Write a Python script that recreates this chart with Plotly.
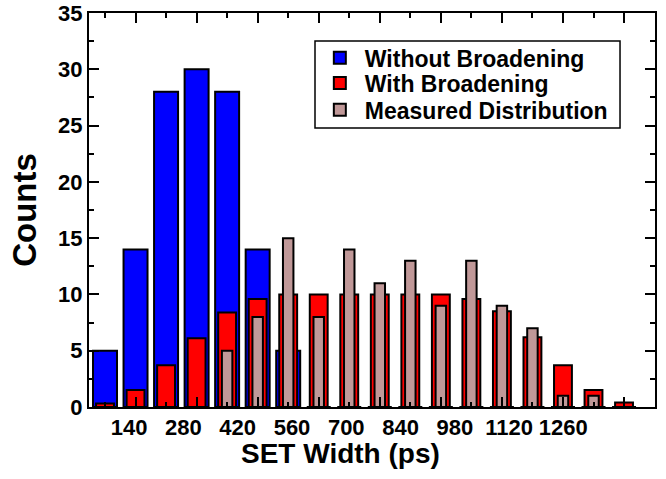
import plotly.graph_objects as go

# SET width bins (ps) and counts per bin
bin_centers = [70, 140, 210, 280, 350, 420, 490, 560, 630, 700, 770, 840,
               910, 980, 1050, 1120, 1190, 1260]
without_broadening = [5, 14, 28, 30, 28, 14, 5, 0, 0, 0, 0, 0,
                      0, 0, 0, 0, 0, 0]
with_broadening = [0.3, 1.5, 3.7, 6.1, 8.4, 9.6, 10, 10, 10, 10, 10, 10,
                   9.6, 8.5, 6.2, 3.7, 1.5, 0.4]
measured = [0, 0, 0, 0, 5, 8, 15, 8, 14, 11, 13, 9,
            13, 9, 7, 1, 1, 0]

# labels of the bottom scale
x_tick_labels = [140, 280, 420, 560, 700, 840, 980, 1120, 1260]

FONT = "Liberation Sans, Arial, Helvetica, sans-serif"
BLUE = "#0000FF"
RED = "#FF0000"
BROWN = "#C09898"
X_RANGE = [33.3, 1331]
Y_RANGE = [0, 35]

fig = go.Figure()
# hidden carriers so the extra scales (labelled bottom scale, top/right tick frames) render
fig.add_trace(go.Scatter(x=x_tick_labels, y=[0] * len(x_tick_labels), xaxis="x2", yaxis="y",
                         mode="markers", marker=dict(opacity=0), showlegend=False,
                         hoverinfo="skip"))
fig.add_trace(go.Scatter(x=bin_centers, y=[0] * len(bin_centers), xaxis="x3", yaxis="y2",
                         mode="markers", marker=dict(opacity=0), showlegend=False,
                         hoverinfo="skip"))

fig.add_trace(go.Bar(x=bin_centers, y=without_broadening, name="Without Broadening",
                     width=55, legend="legend",
                     marker=dict(color=BLUE, line=dict(color="black", width=2))))
fig.add_trace(go.Bar(x=bin_centers, y=with_broadening, name="With Broadening",
                     width=41, legend="legend2",
                     marker=dict(color=RED, line=dict(color="black", width=2))))
fig.add_trace(go.Bar(x=bin_centers, y=measured, name="Measured Distribution",
                     width=24, legend="legend3",
                     marker=dict(color=BROWN, line=dict(color="black", width=2))))


def legend_row(ypos):
    return dict(x=0.399, y=ypos, xanchor="left", yanchor="middle",
                bgcolor="rgba(0,0,0,0)", borderwidth=0, itemwidth=40,
                font=dict(size=23, family=FONT, weight="bold"))


tick_style = dict(ticks="inside", tickwidth=2, tickcolor="black", ticklen=10,
                  showgrid=False, zeroline=False, automargin=False)

fig.update_layout(
    width=666, height=479,
    margin=dict(l=89, r=11, t=13, b=72),
    barmode="overlay",
    plot_bgcolor="white",
    paper_bgcolor="white",
    font=dict(family=FONT, size=22, color="black", weight="bold"),
    legend=legend_row(0.886),
    legend2=legend_row(0.822),
    legend3=legend_row(0.754),
    shapes=[dict(type="rect", xref="paper", yref="paper",
                 x0=0.3993, x1=0.9382, y0=0.7081, y1=0.9289,
                 line=dict(color="black", width=1.5))],
    annotations=[dict(text="SET Width (ps)", xref="paper", yref="paper",
                      x=0.445, y=-0.117, xanchor="center", yanchor="middle",
                      showarrow=False,
                      font=dict(size=28, family=FONT, weight="bold", color="black"))],
    xaxis=dict(
        range=X_RANGE, showline=True, linecolor="black", linewidth=2, mirror=True,
        tick0=0, dtick=140, showticklabels=False,
        minor=dict(ticks="inside", tick0=70, dtick=140, ticklen=5, tickwidth=2,
                   tickcolor="black", showgrid=False),
        **tick_style,
    ),
    xaxis2=dict(
        overlaying="x", anchor="y", side="bottom",
        range=[36.3, 1496.5], tickvals=x_tick_labels,
        ticktext=[str(v) for v in x_tick_labels],
        ticks="", showline=False, showgrid=False, zeroline=False, automargin=False,
        ticklabelstandoff=5,
        tickfont=dict(size=22, family=FONT, weight="bold"),
    ),
    xaxis3=dict(
        overlaying="x", anchor="y2", side="top", range=X_RANGE, showline=False,
        tick0=0, dtick=140, showticklabels=False,
        minor=dict(ticks="inside", tick0=70, dtick=140, ticklen=5, tickwidth=2,
                   tickcolor="black", showgrid=False),
        **tick_style,
    ),
    yaxis=dict(
        range=Y_RANGE, showline=True, linecolor="black", linewidth=2, mirror=True,
        tick0=0, dtick=5,
        tickfont=dict(size=22, family=FONT, weight="bold"),
        minor=dict(ticks="inside", dtick=2.5, ticklen=5, tickwidth=2,
                   tickcolor="black", showgrid=False),
        title=dict(text="Counts", font=dict(size=33, family=FONT, weight="bold"),
                   standoff=12),
        **tick_style,
    ),
    yaxis2=dict(
        overlaying="y", anchor="x3", side="right", range=Y_RANGE, showline=False,
        tick0=0, dtick=5, showticklabels=False,
        minor=dict(ticks="inside", dtick=2.5, ticklen=5, tickwidth=2,
                   tickcolor="black", showgrid=False),
        **tick_style,
    ),
)

fig.write_html("out.html")
